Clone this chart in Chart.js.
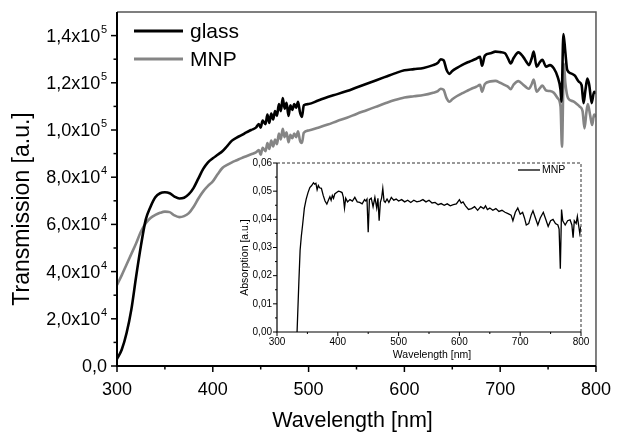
<!DOCTYPE html>
<html>
<head>
<meta charset="utf-8">
<script src="https://cdn.jsdelivr.net/npm/chart.js@4.4.0/dist/chart.umd.min.js"></script>
<style>
  html, body { margin: 0; padding: 0; background: #fff; }
  #wrap { position: relative; width: 624px; height: 433px; }
  #main { position: absolute; left: 0; top: 0; }
  #inset { position: absolute; left: 228px; top: 152px; }
</style>
</head>
<body>
<div id="wrap">
  <canvas id="main" width="624" height="433"></canvas>
  <canvas id="inset" width="372" height="212"></canvas>
</div>
<script>
// Transmission spectra (main plot)
const glassWl = [300,305,310,315,320,325,330,335,340,345,350,355,360,365,370,375,380,385,390,395,
  400,405,410,415,420,425,430,435,440,445,448,450,452,455,457,459,461,463,465,467,469,471,473,475,
  477,479,481,483,485,487,489,491,493,495,500,510,520,530,540,550,560,570,580,590,600,610,620,630,
  635,638,641,644,647,650,655,660,665,670,675,679,681,684,690,695,700,705,708,711,714,719,724,728,
  730,733,735,738,741,744,748,752,756,760,763,764,766,768,770,774,778,782,785,787,789,791,793,795.5,798,800];
const glassT = [3000,7000,14000,24000,38000,51000,62000,67500,71500,73200,73600,73200,71800,71000,71300,72800,75500,79500,83500,86300,
  88000,89500,91000,93200,95500,96800,97800,99000,100000,101000,102500,101000,104000,102500,106500,103000,107000,104500,108000,106000,111000,108000,113500,109000,
  111500,106000,110500,108500,111000,109500,112000,107500,105500,110500,111000,112500,114000,115200,116500,118000,119500,121000,122500,124000,125300,125800,126300,127500,
  128500,130000,129500,125500,123800,125000,126300,127500,128500,129300,130200,131000,127200,131500,132500,133200,133000,132500,130500,128200,130500,132900,131000,128500,
  127500,130500,133200,126800,128500,129700,126800,127500,126100,122500,117000,112000,140700,133000,125400,124000,123000,120500,119000,111400,117000,121800,119000,111400,116200,115500];

const mnpWl = [300,305,310,315,320,325,330,335,340,345,350,355,360,365,370,375,380,385,390,395,
  400,405,410,415,420,425,430,435,440,445,448,450,452,455,457,459,461,463,465,467,469,471,473,475,
  477,479,481,483,485,487,489,491,493,495,500,510,520,530,540,550,560,570,580,590,600,610,620,630,
  635,638,641,644,647,650,655,660,665,670,675,679,681,684,690,695,700,705,708,711,714,719,724,728,
  730,733,735,738,741,744,748,752,756,760,763,764.5,766.5,768,771,776,780,783,786,788,790,791.5,794,796,798,800];
const mnpT = [34300,38500,43000,47500,52000,57000,60500,62700,64000,64900,65400,65200,63800,63100,63500,64800,67500,71000,74000,76300,
  78200,81200,83900,85200,86300,87200,88100,88900,89700,90500,91500,89500,92500,91000,94500,92000,95500,93000,96000,94000,98500,96000,100500,97000,
  99000,94800,98000,96500,98500,97000,99500,95500,94500,98800,99800,101000,102300,103800,105200,106800,108300,109800,111300,112700,113800,114300,114800,115800,
  116500,117500,117000,113500,112000,113000,114400,115500,116500,117500,118300,119100,116200,119500,120600,120800,120000,119000,118400,117300,119200,120700,119200,117800,
  117500,119500,121400,116200,117500,118800,116700,116500,115800,113500,109900,92900,128200,120000,113400,112200,111000,109900,108000,100700,107500,111000,106000,102100,106500,105600];

// Absorption spectrum (inset)
const absWl = [333,336,338,340,342,345,348,351,354,357,360,362,364,366,368,370,373,376,379,382,
  385,387,389,391,393,395,398,401,404,407,409,411,413,416,420,424,428,432,436,440,
  444,446,448,450,452,455,458,461,464,466,468,470,472,474,476,478,481,484,488,492,
  496,500,505,510,515,520,525,530,535,540,545,550,555,560,565,570,575,580,585,590,
  595,600,603,606,610,615,620,625,630,635,640,643,646,650,655,660,665,670,675,680,
  685,688,692,696,700,704,707,710,714,718,721,725,729,733,738,742,746,750,754,758,
  762,764,766,768,770,774,778,782,785,787,789,792,794,796,798,800];
const absVal = [0,0.018,0.029,0.034,0.0378,0.044,0.0472,0.0495,0.0513,0.052,0.053,0.0525,0.0528,0.0505,0.052,0.0512,0.051,0.0485,0.0465,0.0454,
  0.047,0.048,0.0468,0.0485,0.0475,0.049,0.0495,0.050,0.0498,0.0495,0.048,0.044,0.0475,0.0462,0.047,0.0465,0.0478,0.0462,0.046,0.0455,
  0.047,0.0465,0.0472,0.0354,0.047,0.0475,0.0445,0.0478,0.044,0.0475,0.0395,0.046,0.0475,0.051,0.0465,0.046,0.0472,0.046,0.0478,0.0468,
  0.0472,0.0465,0.047,0.0462,0.0468,0.046,0.0468,0.0462,0.0465,0.047,0.0462,0.0468,0.0458,0.046,0.0452,0.0456,0.045,0.0455,0.0448,0.0452,
  0.0455,0.047,0.0458,0.0462,0.0448,0.0435,0.0438,0.0445,0.0432,0.0445,0.0438,0.0448,0.0435,0.044,0.0432,0.0438,0.0428,0.0432,0.0425,0.042,
  0.0415,0.0395,0.0425,0.044,0.0418,0.0425,0.0405,0.038,0.0385,0.0415,0.043,0.0405,0.038,0.0405,0.0425,0.040,0.0375,0.0395,0.040,0.0385,
  0.038,0.0365,0.0225,0.0435,0.0395,0.038,0.0395,0.0398,0.038,0.0335,0.0395,0.0385,0.041,0.038,0.035,0.0375];

// Main y tick labels (mantissa + superscript exponent)
const yTickValues = [0, 20000, 40000, 60000, 80000, 100000, 120000, 140000];
const yTickText = ['0,0', '2,0x10', '4,0x10', '6,0x10', '8,0x10', '1,0x10', '1,2x10', '1,4x10'];
const yTickExp = ['', '4', '4', '4', '4', '5', '5', '5'];

const FONT = '"Liberation Sans", Arial, Helvetica, sans-serif';
Chart.defaults.font.family = FONT;
Chart.defaults.color = '#000';

function toPoints(xs, ys) {
  return xs.map((x, i) => ({ x: x, y: ys[i] }));
}

function line(ctx, x1, y1, x2, y2) {
  ctx.beginPath();
  ctx.moveTo(x1, y1);
  ctx.lineTo(x2, y2);
  ctx.stroke();
}

// frame, minor/major ticks, superscript labels, titles and legend of main plot
const mainDecor = {
  id: 'mainDecor',
  afterDraw(chart) {
    const ctx = chart.ctx, a = chart.chartArea;
    const xs = chart.scales.x, ys = chart.scales.y;
    ctx.save();
    ctx.strokeStyle = '#555';
    ctx.lineWidth = 1.5;
    ctx.beginPath();
    ctx.moveTo(a.left, a.top);
    ctx.lineTo(a.right, a.top);
    ctx.lineTo(a.right, a.bottom);
    ctx.stroke();

    ctx.strokeStyle = '#000';
    ctx.lineWidth = 2;
    ctx.beginPath();
    ctx.moveTo(a.left, a.top);
    ctx.lineTo(a.left, a.bottom);
    ctx.lineTo(a.right, a.bottom);
    ctx.stroke();

    ctx.lineWidth = 1.5;
    xs.ticks.forEach(t => {
      const px = xs.getPixelForValue(t.value);
      line(ctx, px, a.bottom, px, a.bottom + (t.value % 100 === 0 ? 6 : 3.5));
    });
    ys.ticks.forEach(t => {
      if (t.value > 140000) return;
      const py = ys.getPixelForValue(t.value);
      line(ctx, a.left - (t.value % 20000 === 0 ? 6 : 3.5), py, a.left, py);
    });

    ctx.fillStyle = '#000';
    ctx.textAlign = 'right';
    ctx.textBaseline = 'middle';
    yTickValues.forEach((v, i) => {
      const py = ys.getPixelForValue(v);
      let r = 107;
      if (yTickExp[i]) {
        ctx.font = '11px ' + FONT;
        ctx.fillText(yTickExp[i], r, py - 6);
        r -= ctx.measureText(yTickExp[i]).width + 0.5;
      }
      ctx.font = '18px ' + FONT;
      ctx.fillText(yTickText[i], r, py + 1);
    });

    // axis titles
    ctx.textAlign = 'center';
    ctx.font = '21.5px ' + FONT;
    ctx.fillText('Wavelength [nm]', 352.5, 421);
    ctx.save();
    ctx.translate(23, 209);
    ctx.rotate(-Math.PI / 2);
    ctx.font = '23px ' + FONT;
    ctx.fillText('Transmission [a.u.]', 0, 0);
    ctx.restore();

    // legend
    ctx.textAlign = 'left';
    ctx.font = '21px ' + FONT;
    chart.data.datasets.forEach((ds, i) => {
      const y = 31 + i * 28;
      ctx.strokeStyle = ds.borderColor;
      ctx.lineWidth = 3;
      line(ctx, 134, y, 183, y);
      ctx.fillText(ds.label, 190, y + 1);
    });
    ctx.restore();
  }
};

const insetDecor = {
  id: 'insetDecor',
  afterDraw(chart) {
    const ctx = chart.ctx, a = chart.chartArea;
    const xs = chart.scales.x, ys = chart.scales.y;
    ctx.save();
    ctx.strokeStyle = '#333';
    ctx.lineWidth = 1;
    ctx.setLineDash([3, 2]);
    ctx.beginPath();
    ctx.moveTo(a.left, a.top);
    ctx.lineTo(a.right, a.top);
    ctx.lineTo(a.right, a.bottom);
    ctx.stroke();
    ctx.setLineDash([]);

    ctx.strokeStyle = '#000';
    ctx.lineWidth = 1.2;
    ctx.beginPath();
    ctx.moveTo(a.left, a.top);
    ctx.lineTo(a.left, a.bottom);
    ctx.lineTo(a.right, a.bottom);
    ctx.stroke();

    ctx.lineWidth = 1;
    xs.ticks.forEach(t => {
      const px = xs.getPixelForValue(t.value);
      line(ctx, px, a.bottom, px, a.bottom + (t.value % 100 === 0 ? 4 : 2));
    });
    ys.ticks.forEach(t => {
      const py = ys.getPixelForValue(t.value);
      const major = Math.round(t.value * 1000) % 10 === 0;
      line(ctx, a.left - (major ? 4 : 2), py, a.left, py);
    });

    ctx.fillStyle = '#000';
    ctx.textAlign = 'center';
    ctx.textBaseline = 'middle';
    ctx.font = '10.5px ' + FONT;
    ctx.fillText('Wavelength [nm]', 204, 203);
    ctx.save();
    ctx.translate(17, 105.5);
    ctx.rotate(-Math.PI / 2);
    ctx.fillText('Absorption [a.u.]', 0, 0);
    ctx.restore();

    // legend
    const ds = chart.data.datasets[0];
    ctx.strokeStyle = ds.borderColor;
    ctx.lineWidth = 1.3;
    line(ctx, 290, 18, 312, 18);
    ctx.textAlign = 'left';
    ctx.fillText(ds.label, 314, 18.5);
    ctx.restore();
  }
};

new Chart(document.getElementById('main'), {
  type: 'line',
  data: {
    datasets: [{
      label: 'glass',
      data: toPoints(glassWl, glassT),
      borderColor: '#000',
      borderWidth: 2.6,
      cubicInterpolationMode: 'monotone'
    }, {
      label: 'MNP',
      data: toPoints(mnpWl, mnpT),
      borderColor: '#858585',
      borderWidth: 2.6,
      cubicInterpolationMode: 'monotone'
    }]
  },
  options: {
    responsive: false,
    animation: false,
    devicePixelRatio: 1,
    elements: { point: { radius: 0 } },
    layout: { padding: { left: 0, right: 25, top: 12, bottom: 0 } },
    plugins: { legend: { display: false }, tooltip: { enabled: false } },
    scales: {
      x: {
        type: 'linear',
        min: 300,
        max: 800,
        grid: { display: false, drawTicks: false },
        border: { display: false },
        ticks: {
          stepSize: 50,
          autoSkip: false,
          maxRotation: 0,
          padding: 13,
          font: { size: 18 },
          callback: v => (v % 100 === 0 ? String(v) : '')
        },
        afterFit: s => { s.height = 67; }
      },
      y: {
        min: 0,
        max: 150000,
        grid: { display: false, drawTicks: false },
        border: { display: false },
        ticks: { display: false, stepSize: 10000 },
        afterFit: s => { s.width = 117; }
      }
    }
  },
  plugins: [mainDecor]
});

new Chart(document.getElementById('inset'), {
  type: 'line',
  data: {
    datasets: [{
      label: 'MNP',
      data: toPoints(absWl, absVal),
      borderColor: '#000',
      borderWidth: 1.3,
      tension: 0
    }]
  },
  options: {
    responsive: false,
    animation: false,
    devicePixelRatio: 1,
    elements: { point: { radius: 0 } },
    layout: { padding: { left: 0, right: 19, top: 10, bottom: 0 } },
    plugins: { legend: { display: false }, tooltip: { enabled: false } },
    scales: {
      x: {
        type: 'linear',
        min: 300,
        max: 800,
        grid: { display: false, drawTicks: false },
        border: { display: false },
        ticks: {
          stepSize: 50,
          autoSkip: false,
          maxRotation: 0,
          padding: 4,
          font: { size: 10 },
          callback: v => (v % 100 === 0 ? String(v) : '')
        },
        afterFit: s => { s.height = 32; }
      },
      y: {
        min: 0,
        max: 0.06,
        grid: { display: false, drawTicks: false },
        border: { display: false },
        ticks: {
          stepSize: 0.005,
          autoSkip: false,
          padding: 5,
          font: { size: 10 },
          callback: v => (Math.round(v * 1000) % 10 === 0 ? v.toFixed(2).replace('.', ',') : '')
        },
        afterFit: s => { s.width = 49; }
      }
    }
  },
  plugins: [insetDecor]
});
</script>
</body>
</html>
